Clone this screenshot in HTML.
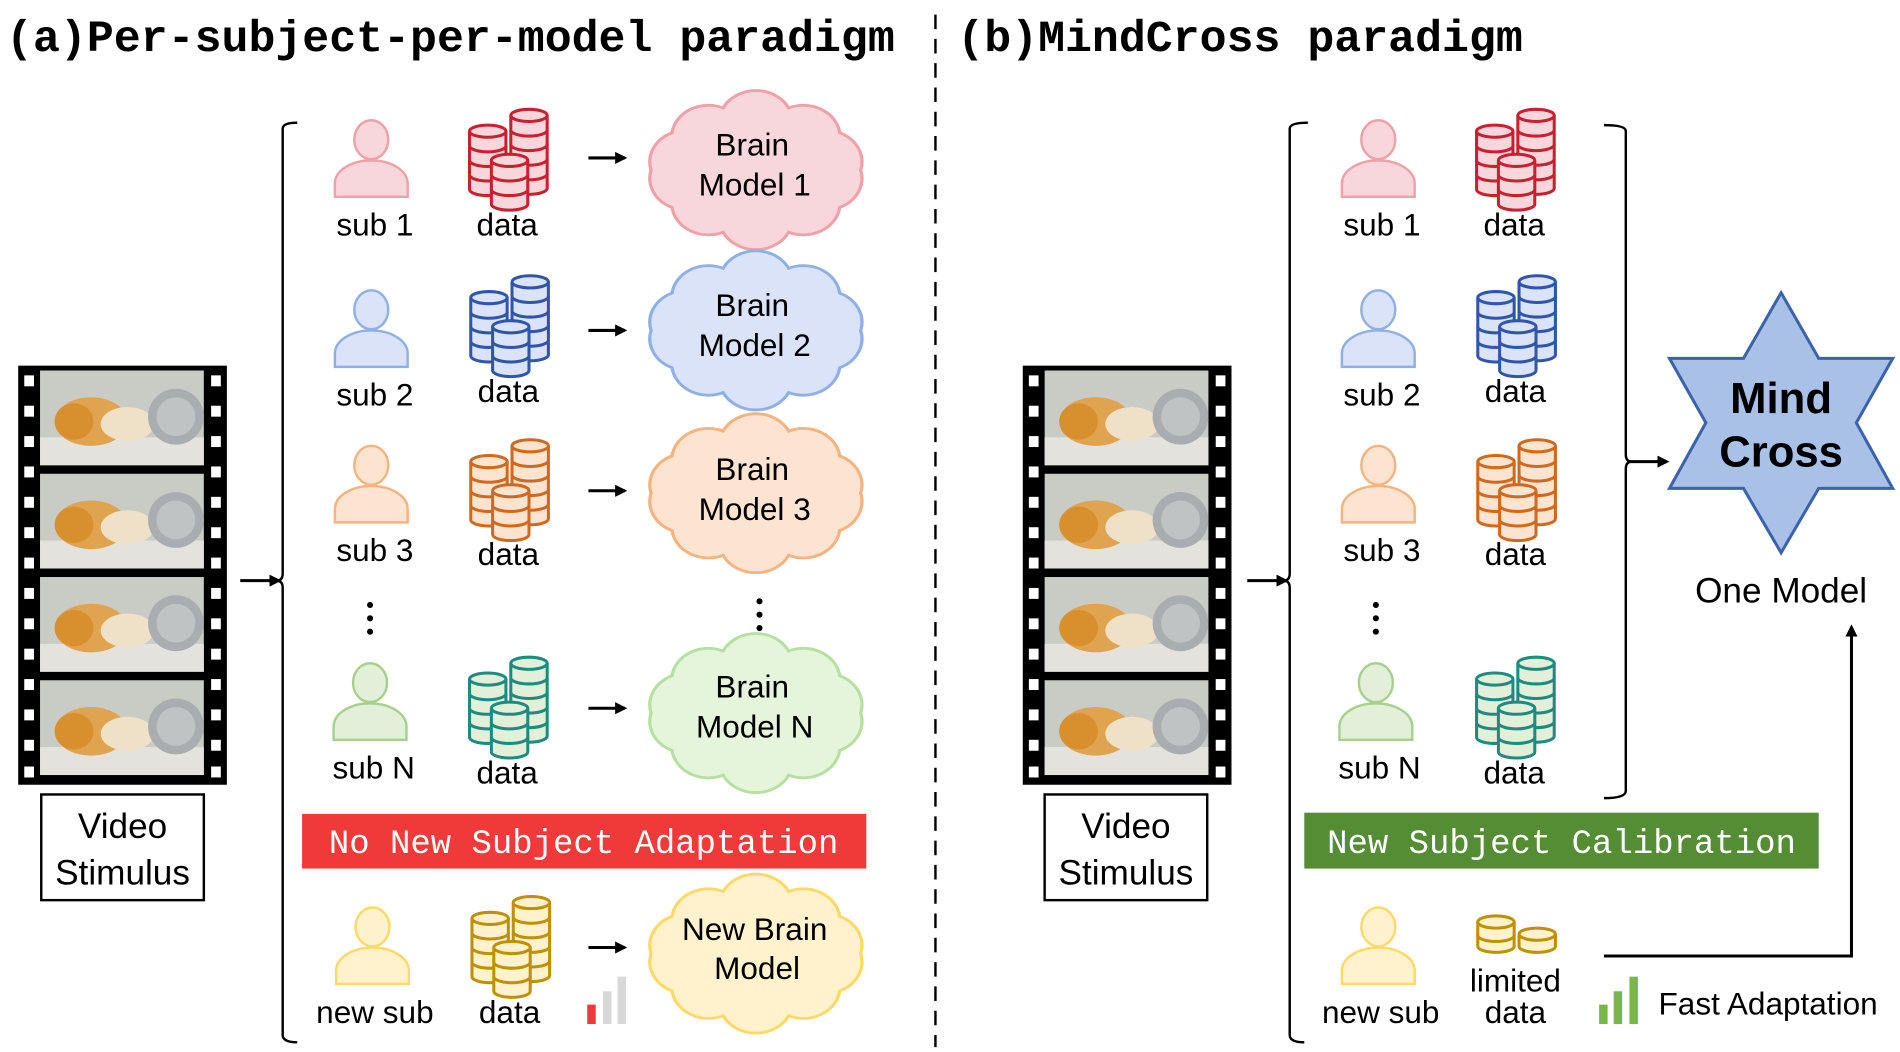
<!DOCTYPE html>
<html><head><meta charset="utf-8"><style>
html,body{margin:0;padding:0;background:#fff;}
svg{display:block}
.t{font-family:"Liberation Sans",sans-serif;font-size:26px;fill:#000;text-anchor:middle}
.m{font-family:"Liberation Mono",monospace;}
</style></head><body>
<svg width="1900" height="1052" viewBox="0 0 1566 866" preserveAspectRatio="none" xmlns="http://www.w3.org/2000/svg">
<defs>
<marker id="ah" markerWidth="10" markerHeight="10" refX="8" refY="5" orient="auto" markerUnits="userSpaceOnUse"><path d="M0,0 L10,5 L0,10 z" fill="#000"/></marker>
<g id="person"><ellipse cx="0" cy="15" rx="14" ry="16" stroke-width="2"/><path d="M-30,62 V51 A30,19 0 0 1 30,51 V62 Z" stroke-width="2"/></g>
<g id="c4"><path d="M0,5 V53 A15,5 0 0 0 30,53 V5" stroke-width="2.5"/><ellipse cx="15" cy="5" rx="15" ry="5" stroke-width="2.5"/><path d="M0,17 A15,5 0 0 0 30,17 M0,29 A15,5 0 0 0 30,29 M0,41 A15,5 0 0 0 30,41" fill="none" stroke-width="2.5"/></g>
<g id="c5"><path d="M0,5 V65 A15,5 0 0 0 30,65 V5" stroke-width="2.5"/><ellipse cx="15" cy="5" rx="15" ry="5" stroke-width="2.5"/><path d="M0,17 A15,5 0 0 0 30,17 M0,29 A15,5 0 0 0 30,29 M0,41 A15,5 0 0 0 30,41 M0,53 A15,5 0 0 0 30,53" fill="none" stroke-width="2.5"/></g>
<g id="c3"><path d="M0,5 V41 A15,5 0 0 0 30,41 V5" stroke-width="2.5"/><ellipse cx="15" cy="5" rx="15" ry="5" stroke-width="2.5"/><path d="M0,17 A15,5 0 0 0 30,17 M0,29 A15,5 0 0 0 30,29" fill="none" stroke-width="2.5"/></g>
<g id="stack"><use href="#c5" x="34" y="0"/><use href="#c4" x="0" y="13"/><use href="#c3" x="18" y="37"/></g>
<path id="cloud" stroke-width="2.5" d="M80,0 A28,28 0 0 1 64,33 A28,28 0 0 1 25,55 A28,28 0 0 1 -25,55 A28,28 0 0 1 -64,33 A28,28 0 0 1 -80,0 A28,28 0 0 1 -64,-33 A28,28 0 0 1 -25,-55 A28,28 0 0 1 25,-55 A28,28 0 0 1 64,-33 A28,28 0 0 1 80,0 Z"/>
<g id="frame"><rect x="0" y="0" width="135" height="78" fill="#c9ccc5"/><rect x="0" y="55" width="135" height="23" fill="#e3e2dc"/><ellipse cx="42" cy="42" rx="30" ry="20" fill="#e0a34f"/><ellipse cx="72" cy="44" rx="22" ry="14" fill="#efe0c8"/><ellipse cx="28" cy="42" rx="16" ry="15" fill="#d8902f"/><circle cx="112" cy="38" r="23" fill="#a9adaf"/><circle cx="112" cy="38" r="16" fill="#bfc3c4"/></g>
<g id="film"><rect x="0" y="0" width="172" height="345" fill="#000"/>
<g fill="#fff"><rect x="5" y="8" width="8" height="9"/><rect x="5" y="33" width="8" height="9"/><rect x="5" y="58" width="8" height="9"/><rect x="5" y="83" width="8" height="9"/><rect x="5" y="108" width="8" height="9"/><rect x="5" y="133" width="8" height="9"/><rect x="5" y="158" width="8" height="9"/><rect x="5" y="183" width="8" height="9"/><rect x="5" y="208" width="8" height="9"/><rect x="5" y="233" width="8" height="9"/><rect x="5" y="258" width="8" height="9"/><rect x="5" y="283" width="8" height="9"/><rect x="5" y="308" width="8" height="9"/><rect x="5" y="330" width="8" height="9"/>
<rect x="159" y="8" width="8" height="9"/><rect x="159" y="33" width="8" height="9"/><rect x="159" y="58" width="8" height="9"/><rect x="159" y="83" width="8" height="9"/><rect x="159" y="108" width="8" height="9"/><rect x="159" y="133" width="8" height="9"/><rect x="159" y="158" width="8" height="9"/><rect x="159" y="183" width="8" height="9"/><rect x="159" y="208" width="8" height="9"/><rect x="159" y="233" width="8" height="9"/><rect x="159" y="258" width="8" height="9"/><rect x="159" y="283" width="8" height="9"/><rect x="159" y="308" width="8" height="9"/><rect x="159" y="330" width="8" height="9"/></g>
<use href="#frame" x="18" y="4"/><use href="#frame" x="18" y="89"/><use href="#frame" x="18" y="174"/><use href="#frame" x="18" y="259"/></g>
</defs>

<text x="5" y="42" class="m" font-size="37" font-weight="bold">(a)Per-subject-per-model paradigm</text>
<text x="789" y="42" class="m" font-size="37" font-weight="bold">(b)MindCross paradigm</text>
<line x1="771" y1="12" x2="771" y2="862" stroke="#000" stroke-width="2" stroke-dasharray="12,8"/>

<use href="#film" x="15" y="301"/>
<rect x="34" y="654" width="134" height="87" fill="#fff" stroke="#000" stroke-width="2"/>
<text x="101" y="690" class="t" style="font-size:29px">Video</text>
<text x="101" y="728" class="t" style="font-size:29px">Stimulus</text>
<line x1="198" y1="478" x2="230" y2="478" stroke="#000" stroke-width="2.5" marker-end="url(#ah)"/>
<path d="M245,101 Q233,101 233,106 V472 Q233,478 228,478 Q233,478 233,484 V852 Q233,858 245,858" fill="none" stroke="#000" stroke-width="2"/>

<g fill="#f8d7dc" stroke="#f0a0a8"><use href="#person" x="306" y="100"/></g>
<g fill="#f8d7dc" stroke="#c8202e"><use href="#stack" x="387" y="90"/></g>
<text x="309" y="194" class="t">sub 1</text><text x="418" y="194" class="t">data</text>
<line x1="485" y1="130" x2="515" y2="130" stroke="#000" stroke-width="2.5" marker-end="url(#ah)"/>
<g fill="#f8d7dc" stroke="#f0a0a8"><use href="#cloud" transform="translate(623,140) scale(1.08,0.93)"/></g>
<text x="620" y="128" class="t">Brain</text><text x="622" y="161" class="t">Model 1</text>

<g fill="#dae3f8" stroke="#8fb0e6"><use href="#person" x="306" y="240"/></g>
<g fill="#dae3f8" stroke="#2f56a8"><use href="#stack" x="388" y="227"/></g>
<text x="309" y="334" class="t">sub 2</text><text x="419" y="331" class="t">data</text>
<line x1="485" y1="272" x2="515" y2="272" stroke="#000" stroke-width="2.5" marker-end="url(#ah)"/>
<g fill="#dae3f8" stroke="#8fb0e6"><use href="#cloud" transform="translate(623,272) scale(1.08,0.93)"/></g>
<text x="620" y="260" class="t">Brain</text><text x="622" y="293" class="t">Model 2</text>

<g fill="#fce4d0" stroke="#f5b380"><use href="#person" x="306" y="368"/></g>
<g fill="#fce4d0" stroke="#d0691e"><use href="#stack" x="388" y="362"/></g>
<text x="309" y="462" class="t">sub 3</text><text x="419" y="465" class="t">data</text>
<line x1="485" y1="404" x2="515" y2="404" stroke="#000" stroke-width="2.5" marker-end="url(#ah)"/>
<g fill="#fce4d0" stroke="#f5b380"><use href="#cloud" transform="translate(623,406) scale(1.08,0.93)"/></g>
<text x="620" y="395" class="t">Brain</text><text x="622" y="428" class="t">Model 3</text>

<g fill="#000"><circle cx="305" cy="498" r="2.5"/><circle cx="305" cy="509" r="2.5"/><circle cx="305" cy="520" r="2.5"/>
<circle cx="626" cy="495" r="2.5"/><circle cx="626" cy="506" r="2.5"/><circle cx="626" cy="517" r="2.5"/></g>

<g fill="#e2efd9" stroke="#a8d08d"><use href="#person" x="305" y="547"/></g>
<g fill="#e2efd9" stroke="#1f8a80"><use href="#stack" x="387" y="541"/></g>
<text x="308" y="641" class="t">sub N</text><text x="418" y="645" class="t">data</text>
<line x1="485" y1="583" x2="515" y2="583" stroke="#000" stroke-width="2.5" marker-end="url(#ah)"/>
<g fill="#e5f5dc" stroke="#b5e0a0"><use href="#cloud" transform="translate(623,587) scale(1.08,0.93)"/></g>
<text x="620" y="574" class="t">Brain</text><text x="622" y="607" class="t">Model N</text>

<rect x="249" y="670" width="465" height="45" fill="#f03a3a"/>
<text x="481" y="702" class="m" font-size="28" fill="#fff" text-anchor="middle">No New Subject Adaptation</text>

<g fill="#fff2cc" stroke="#ffd966"><use href="#person" x="307" y="748"/></g>
<g fill="#fff2cc" stroke="#bf9000"><use href="#stack" x="389" y="738"/></g>
<text x="309" y="842" class="t">new sub</text><text x="420" y="842" class="t">data</text>
<line x1="485" y1="780" x2="515" y2="780" stroke="#000" stroke-width="2.5" marker-end="url(#ah)"/>
<g fill="#fff2cc" stroke="#ffd966"><use href="#cloud" transform="translate(623,785) scale(1.08,0.93)"/></g>
<text x="622" y="774" class="t">New Brain</text><text x="624" y="806" class="t">Model</text>
<rect x="484" y="827" width="7" height="16" fill="#f03a3a"/><rect x="497" y="816" width="7" height="27" fill="#d8d8d8"/><rect x="509" y="804" width="7" height="39" fill="#d8d8d8"/>

<use href="#film" x="843" y="301"/>
<rect x="861" y="654" width="134" height="87" fill="#fff" stroke="#000" stroke-width="2"/>
<text x="928" y="690" class="t" style="font-size:29px">Video</text>
<text x="928" y="728" class="t" style="font-size:29px">Stimulus</text>
<line x1="1028" y1="478" x2="1060" y2="478" stroke="#000" stroke-width="2.5" marker-end="url(#ah)"/>
<path d="M1078,101 Q1063,101 1063,106 V472 Q1063,478 1058,478 Q1063,478 1063,484 V852 Q1063,858 1075,858" fill="none" stroke="#000" stroke-width="2"/>
<path d="M1322,103 Q1340,103 1340,108 V374 Q1340,380 1345,380 Q1340,380 1340,386 V651 Q1340,657 1322,657" fill="none" stroke="#000" stroke-width="2"/>
<line x1="1341" y1="380" x2="1374" y2="380" stroke="#000" stroke-width="2.5" marker-end="url(#ah)"/>

<g fill="#f8d7dc" stroke="#f0a0a8"><use href="#person" x="1136" y="100"/></g>
<g fill="#f8d7dc" stroke="#c8202e"><use href="#stack" x="1217" y="90"/></g>
<text x="1139" y="194" class="t">sub 1</text><text x="1248" y="194" class="t">data</text>
<g fill="#dae3f8" stroke="#8fb0e6"><use href="#person" x="1136" y="240"/></g>
<g fill="#dae3f8" stroke="#2f56a8"><use href="#stack" x="1218" y="227"/></g>
<text x="1139" y="334" class="t">sub 2</text><text x="1249" y="331" class="t">data</text>
<g fill="#fce4d0" stroke="#f5b380"><use href="#person" x="1136" y="368"/></g>
<g fill="#fce4d0" stroke="#d0691e"><use href="#stack" x="1218" y="362"/></g>
<text x="1139" y="462" class="t">sub 3</text><text x="1249" y="465" class="t">data</text>
<g fill="#000"><circle cx="1134" cy="498" r="2.5"/><circle cx="1134" cy="509" r="2.5"/><circle cx="1134" cy="520" r="2.5"/></g>
<g fill="#e2efd9" stroke="#a8d08d"><use href="#person" x="1134" y="547"/></g>
<g fill="#e2efd9" stroke="#1f8a80"><use href="#stack" x="1217" y="541"/></g>
<text x="1137" y="641" class="t">sub N</text><text x="1248" y="645" class="t">data</text>

<polygon points="1468,241 1499,295 1560,295 1530,348 1560,402 1499,402 1468,455 1437,402 1376,402 1406,348 1376,295 1437,295" fill="#a9c1e6" stroke="#3a62ad" stroke-width="2.5"/>
<text x="1468" y="340" class="t" style="font-size:36px;font-weight:bold">Mind</text>
<text x="1468" y="384" class="t" style="font-size:36px;font-weight:bold">Cross</text>
<text x="1468" y="496" class="t" style="font-size:29px">One Model</text>

<rect x="1075" y="669" width="424" height="46" fill="#548d33"/>
<text x="1287" y="702" class="m" font-size="28" fill="#fff" text-anchor="middle">New Subject Calibration</text>

<g fill="#fff2cc" stroke="#ffd966"><use href="#person" x="1136" y="748"/></g>
<g fill="#fff2cc" stroke="#bf9000">
<path d="M1218,759 V779 A15,5 0 0 0 1248,779 V759" stroke-width="2.5"/><ellipse cx="1233" cy="759" rx="15" ry="5" stroke-width="2.5"/><path d="M1218,770 A15,5 0 0 0 1248,770" fill="none" stroke-width="2.5"/>
<path d="M1252,769 V779 A15,5 0 0 0 1282,779 V769" stroke-width="2.5"/><ellipse cx="1267" cy="769" rx="15" ry="5" stroke-width="2.5"/></g>
<text x="1138" y="842" class="t">new sub</text>
<text x="1249" y="816" class="t">limited</text><text x="1249" y="842" class="t">data</text>
<polyline points="1322,787 1526,787 1526,516" fill="none" stroke="#000" stroke-width="2.5" marker-end="url(#ah)"/>
<rect x="1318" y="827" width="7" height="16" fill="#7ab648"/><rect x="1330" y="816" width="7" height="27" fill="#7ab648"/><rect x="1343" y="804" width="7" height="39" fill="#7ab648"/>
<text x="1367" y="835" class="t" style="text-anchor:start">Fast Adaptation</text>
</svg>
</body></html>
